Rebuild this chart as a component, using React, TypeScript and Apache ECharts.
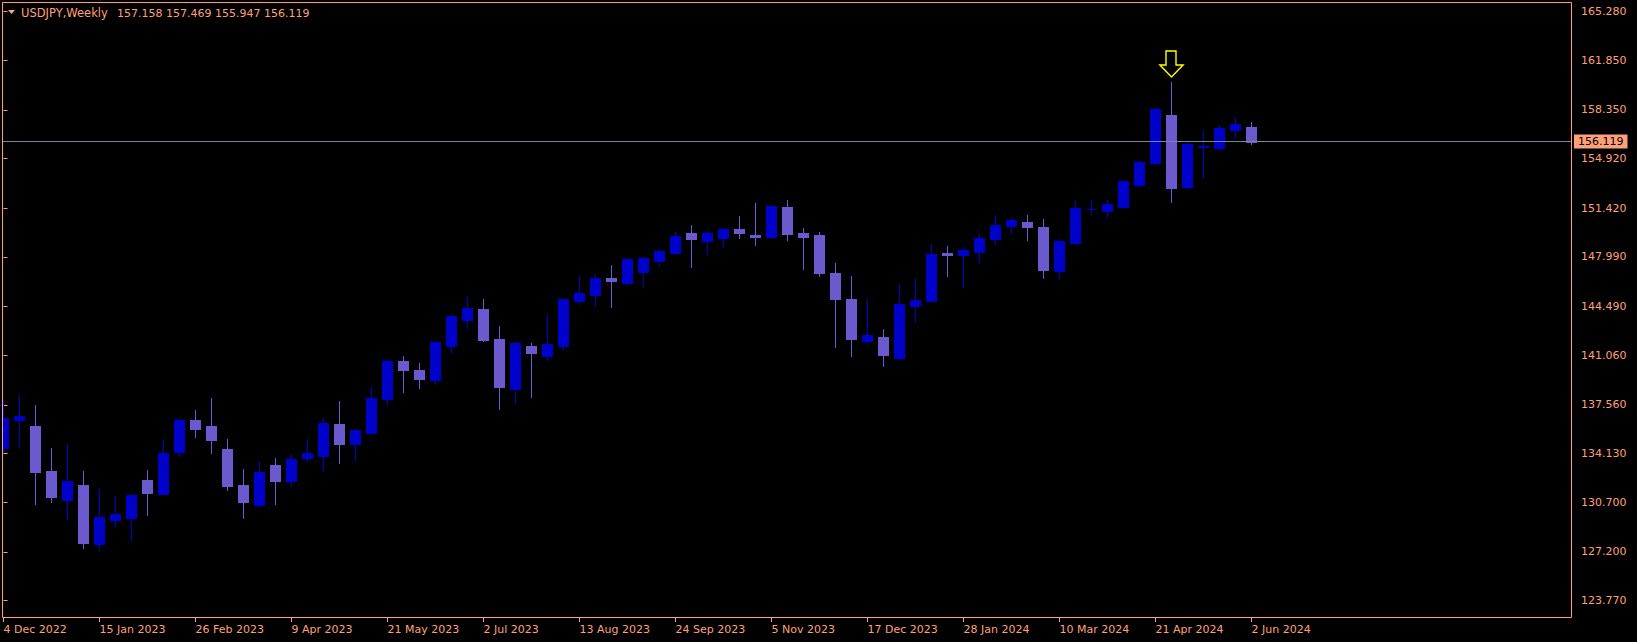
import React, { useEffect, useRef } from 'react';
import * as echarts from 'echarts';

const SYMBOL = 'USDJPY,Weekly';

const OPEN = [
  134.50, 136.48, 136.04, 132.93, 130.88, 131.94, 127.76, 129.46, 129.60, 132.29,
  131.30, 134.22, 136.53, 136.04, 134.48, 131.94, 130.54, 133.35, 132.17, 133.80,
  133.99, 136.25, 134.84, 135.61, 137.95, 140.63, 140.00, 139.29, 141.72, 143.53,
  144.31, 142.19, 138.65, 141.70, 140.99, 141.70, 144.88, 145.30, 146.50, 146.15,
  146.93, 147.71, 148.27, 149.69, 149.12, 149.33, 149.97, 149.55, 149.40, 151.53,
  149.69, 149.55, 146.86, 145.02, 142.07, 142.33, 140.85, 144.52, 144.88, 148.27,
  148.13, 148.34, 149.26, 150.18, 150.46, 150.11, 147.00, 148.98, 151.35, 151.24,
  151.53, 153.08, 154.57, 157.96, 152.94, 155.76, 155.63, 156.90, 157.158,
];
const HIGH = [
  137.93, 138.23, 137.52, 134.55, 134.84, 132.93, 131.67, 131.16, 131.28, 133.00,
  135.19, 136.62, 137.17, 138.02, 135.17, 133.07, 133.63, 133.85, 134.13, 135.19,
  136.62, 137.81, 135.83, 138.80, 140.78, 140.99, 140.49, 142.00, 143.96, 145.16,
  145.02, 143.11, 142.05, 141.91, 143.96, 145.09, 146.65, 146.72, 147.42, 147.92,
  148.06, 148.56, 149.76, 150.25, 149.90, 150.04, 150.89, 151.81, 151.67, 152.02,
  150.04, 149.76, 147.57, 146.65, 145.02, 142.90, 146.08, 146.50, 148.91, 148.77,
  148.70, 149.69, 150.96, 150.82, 150.96, 150.68, 149.26, 151.95, 152.02, 152.02,
  153.44, 154.85, 158.53, 160.29, 156.05, 156.90, 157.25, 157.82, 157.469,
];
const LOW = [
  134.22, 134.50, 130.61, 130.75, 129.55, 127.48, 127.34, 129.06, 128.05, 129.81,
  131.25, 133.94, 135.28, 134.15, 131.60, 129.62, 130.40, 130.61, 131.82, 133.58,
  133.00, 133.50, 133.70, 135.55, 137.52, 138.44, 138.73, 139.01, 141.20, 142.97,
  142.05, 137.24, 137.66, 138.09, 140.71, 141.48, 144.67, 144.52, 144.45, 146.01,
  145.94, 147.35, 148.20, 147.28, 148.20, 148.77, 149.33, 148.84, 149.33, 149.19,
  147.14, 146.65, 141.63, 140.99, 141.84, 140.28, 140.78, 143.39, 144.85, 146.65,
  145.87, 147.64, 148.91, 149.69, 149.19, 146.50, 146.50, 148.91, 151.03, 150.82,
  151.50, 152.94, 154.43, 151.88, 152.80, 153.58, 155.49, 156.41, 155.947,
];
const CLOSE = [
  136.67, 136.79, 132.81, 131.09, 132.22, 127.83, 129.67, 129.86, 131.23, 131.37,
  134.20, 136.53, 135.85, 135.07, 131.82, 130.75, 132.86, 132.17, 133.77, 134.20,
  136.32, 134.84, 135.76, 138.02, 140.63, 140.00, 139.36, 141.98, 143.82, 144.38,
  142.12, 138.80, 141.91, 141.20, 141.84, 145.02, 145.44, 146.50, 146.29, 147.85,
  147.92, 148.41, 149.47, 149.26, 149.69, 149.97, 149.69, 149.40, 151.60, 149.62,
  149.40, 146.86, 145.02, 142.19, 142.47, 141.06, 144.67, 144.95, 148.20, 148.13,
  148.48, 149.33, 150.25, 150.61, 150.11, 147.07, 149.12, 151.45, 151.37, 151.74,
  153.36, 154.71, 158.39, 152.87, 155.91, 155.78, 157.04, 157.32, 156.119,
];

const X_TICK_LABELS = [
  '4 Dec 2022', '15 Jan 2023', '26 Feb 2023', '9 Apr 2023', '21 May 2023', '2 Jul 2023',
  '13 Aug 2023', '24 Sep 2023', '5 Nov 2023', '17 Dec 2023', '28 Jan 2024', '10 Mar 2024',
  '21 Apr 2024', '2 Jun 2024',
];
const X_TICK_INDEX = [0, 6, 12, 18, 24, 30, 36, 42, 48, 54, 60, 66, 72, 78];

const Y_TICKS = [
  165.28, 161.85, 158.35, 154.92, 151.42, 147.99, 144.49, 141.06, 137.56, 134.13,
  130.7, 127.2, 123.77,
];

const LAST_PRICE = 156.119;
const ARROW_INDEX = 73;
const ARROW_PRICE = 161.58;

const FG = '#FFA07A';
const BULL = '#0000CD';
const BEAR = '#6A5ACD';
const FONT = 'DejaVu Sans';

export default function App() {
  const ref = useRef<HTMLDivElement>(null);

  useEffect(() => {
    if (!ref.current) return;
    const chart = echarts.init(ref.current, undefined, { renderer: 'svg' });
    const data = OPEN.map((o, i) => [i, o, HIGH[i], LOW[i], CLOSE[i]]);
    const n = OPEN.length - 1;
    const ohlcText = `${OPEN[n].toFixed(3)} ${HIGH[n].toFixed(3)} ${LOW[n].toFixed(3)} ${CLOSE[n].toFixed(3)}`;

    chart.setOption({
      animation: false,
      backgroundColor: '#000',
      grid: { left: 2, top: 2, right: 65, bottom: 24, containLabel: false },
      xAxis: {
        type: 'value',
        min: -0.09375,
        max: 98.03125,
        splitLine: { show: false },
        axisLine: { show: false },
        axisTick: { show: true, inside: false, length: 4, lineStyle: { color: FG }, customValues: X_TICK_INDEX },
        axisLabel: {
          customValues: X_TICK_INDEX,
          formatter: (v: number) => X_TICK_LABELS[X_TICK_INDEX.indexOf(Math.round(v))] ?? '',
          color: FG,
          fontFamily: FONT,
          fontSize: 11,
          align: 'left',
          margin: 6,
        },
      },
      yAxis: {
        type: 'value',
        position: 'right',
        min: 122.546,
        max: 165.949,
        scale: true,
        splitLine: { show: false },
        axisLine: { show: false },
        axisTick: { show: true, inside: false, length: 4, lineStyle: { color: FG }, customValues: Y_TICKS },
        axisLabel: {
          customValues: Y_TICKS,
          formatter: (v: number) => v.toFixed(3),
          color: FG,
          fontFamily: FONT,
          fontSize: 11,
          margin: 9,
        },
      },
      series: [
        {
          type: 'custom',
          clip: true,
          data,
          encode: { x: 0, y: [1, 2, 3, 4] },
          renderItem: (params: any, api: any) => {
            const i = api.value(0);
            const o = api.value(1);
            const h = api.value(2);
            const l = api.value(3);
            const c = api.value(4);
            const pO = api.coord([i, o]);
            const pC = api.coord([i, c]);
            const pH = api.coord([i, h]);
            const pL = api.coord([i, l]);
            const xc = pO[0];
            const color = c >= o ? BULL : BEAR;
            const top = Math.round(Math.min(pO[1], pC[1]));
            const bot = Math.round(Math.max(pO[1], pC[1]));
            const yH = Math.round(pH[1]);
            const yL = Math.round(pL[1]);
            return {
              type: 'group',
              children: [
                {
                  type: 'rect',
                  shape: { x: xc - 0.5, y: yH, width: 1, height: Math.max(1, yL - yH + 1) },
                  style: { fill: color },
                },
                {
                  type: 'rect',
                  shape: { x: xc - 5.5, y: top, width: 11, height: Math.max(1, bot - top + 1) },
                  style: { fill: color },
                },
              ],
            };
          },
          markLine: {
            silent: true,
            symbol: ['none', 'none'],
            lineStyle: { color: '#778899', width: 1, type: 'solid' },
            label: {
              show: true,
              position: 'end',
              distance: 2,
              formatter: () => LAST_PRICE.toFixed(3),
              color: '#000',
              backgroundColor: FG,
              fontFamily: FONT,
              fontSize: 11,
              padding: [2, 4, 1, 4],
            },
            data: [{ yAxis: LAST_PRICE }],
          },
          markPoint: {
            silent: true,
            label: { show: false },
            data: [
              {
                coord: [ARROW_INDEX, ARROW_PRICE],
                symbol: 'path://M6 0 L16 0 L16 14 L23 14 L11.5 26 L0 14 L6 14 Z',
                symbolSize: [23, 26],
                itemStyle: { color: 'rgba(0,0,0,0)', borderColor: '#FFFF00', borderWidth: 1.5 },
              },
            ],
          },
        },
      ],
      graphic: [
        {
          type: 'rect',
          z: 100,
          silent: true,
          shape: { x: 2.5, y: 2.5, width: 1569, height: 615 },
          style: { fill: 'none', stroke: FG, lineWidth: 1 },
        },
        {
          type: 'polygon',
          z: 100,
          shape: { points: [[8, 10], [15, 10], [11.5, 14]] },
          style: { fill: FG },
        },
        {
          type: 'text',
          z: 100,
          x: 21,
          y: 13,
          style: {
            text: SYMBOL,
            fill: FG,
            font: `11.5px "${FONT}"`,
            verticalAlign: 'middle',
          },
        },
        {
          type: 'text',
          z: 100,
          x: 117,
          y: 13,
          style: {
            text: ohlcText,
            fill: FG,
            font: `11px "${FONT}"`,
            verticalAlign: 'middle',
          },
        },
      ],
    });
    return () => chart.dispose();
  }, []);

  return (
    <div
      ref={ref}
      style={{ position: 'fixed', left: 0, top: 0, width: 1637, height: 642, background: '#000' }}
    />
  );
}
